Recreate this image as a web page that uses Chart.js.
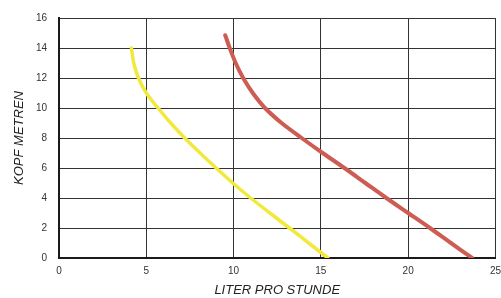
<!DOCTYPE html>
<html>
<head>
<meta charset="utf-8">
<script src="https://cdn.jsdelivr.net/npm/chart.js@4/dist/chart.umd.min.js"></script>
<style>
  html, body { margin: 0; padding: 0; background: #fff; }
  #wrap { width: 501px; height: 298px; }
</style>
</head>
<body>
<div id="wrap"><canvas id="pumpChart"></canvas></div>
<script>
"use strict";
const yellowFlow = [4.15, 4.28, 4.55, 5.0, 5.67, 6.4, 7.2, 8.08, 9.0, 9.95, 10.98, 12.08, 13.2, 14.3, 15.4];
const yellowHead = [14, 13, 12, 11, 10, 9, 8, 7, 6, 5, 4, 3, 2, 1, 0];
const redFlow = [9.52, 9.78, 10.12, 10.55, 11.1, 11.8, 12.75, 13.9, 15.1, 16.35, 17.55, 18.75, 20.0, 21.25, 22.45, 23.67];
const redHead = [14.85, 14, 13, 12, 11, 10, 9, 8, 7, 6, 5, 4, 3, 2, 1, 0];
const xTicks = [0, 5, 10, 15, 20, 25];
const yTicks = [0, 2, 4, 6, 8, 10, 12, 14, 16];

const toPoints = (xs, ys) => xs.map((x, i) => ({ x, y: ys[i] }));

const fontFamily = "'Liberation Sans', Arial, sans-serif";

new Chart(document.getElementById("pumpChart"), {
    type: 'scatter',
    data: {
        datasets: [
            {
                label: 'gelb',
                data: toPoints(yellowFlow, yellowHead),
                showLine: true,
                borderColor: '#f2e93e',
                borderWidth: 3.5,
                pointRadius: 0,
                tension: 0.3,
                borderCapStyle: 'round'
            },
            {
                label: 'rot',
                data: toPoints(redFlow, redHead),
                showLine: true,
                borderColor: '#cd5c53',
                borderWidth: 4,
                pointRadius: 0,
                tension: 0.3,
                borderCapStyle: 'round'
            }
        ]
    },
    options: {
        responsive: true,
        maintainAspectRatio: false,
        animation: false,
        layout: { padding: { top: 16, right: 0, left: 0, bottom: 0 } },
        plugins: {
            legend: { display: false },
            tooltip: { enabled: false }
        },
        scales: {
            x: {
                type: 'linear',
                min: xTicks[0],
                max: xTicks[xTicks.length - 1],
                afterBuildTicks: s => { s.ticks = xTicks.map(v => ({ value: v })); },
                afterFit: s => { s.height = 40; },
                // invisible tick marks give the label gap without widening the right padding
                grid: { color: '#333', lineWidth: 1, drawTicks: true, tickLength: 7, tickColor: 'rgba(0,0,0,0)' },
                border: { color: '#1a1a1a', width: 2 },
                ticks: { color: '#333', padding: 0, font: { family: fontFamily, size: 10 } },
                title: {
                    display: true,
                    text: 'LITER PRO STUNDE',
                    color: '#222',
                    padding: { top: 0, bottom: 0 },
                    font: { family: fontFamily, size: 13, style: 'italic' }
                }
            },
            y: {
                type: 'linear',
                min: yTicks[0],
                max: yTicks[yTicks.length - 1],
                afterBuildTicks: s => { s.ticks = yTicks.map(v => ({ value: v })); },
                afterFit: s => { s.width = 59; },
                grid: { color: '#333', lineWidth: 1, drawTicks: false },
                border: { color: '#1a1a1a', width: 2 },
                ticks: { color: '#333', padding: 12, font: { family: fontFamily, size: 10 } },
                title: {
                    display: true,
                    text: 'KOPF METREN',
                    color: '#222',
                    padding: { top: 12, bottom: 0 },
                    font: { family: fontFamily, size: 13, style: 'italic' }
                }
            }
        }
    }
});
</script>
</body>
</html>
